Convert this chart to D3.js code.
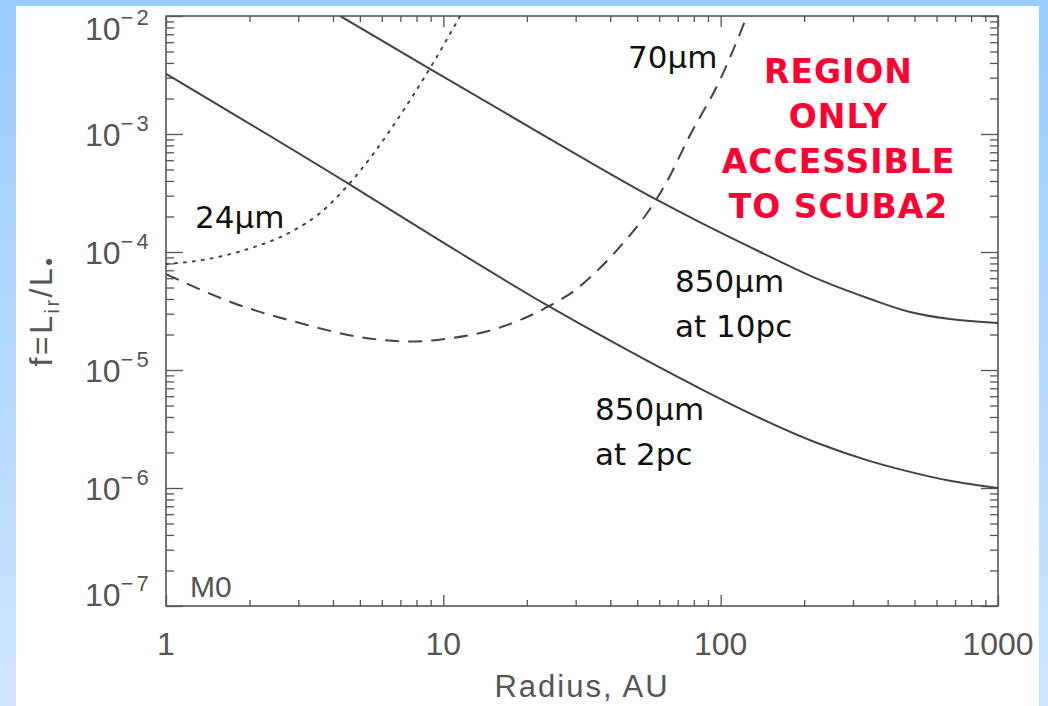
<!DOCTYPE html>
<html>
<head>
<meta charset="utf-8">
<script src="https://cdn.jsdelivr.net/npm/d3@7"></script>
<style>
  body { margin: 0; }
  svg { display: block; }
</style>
</head>
<body>
<div id="chart"></div>
<script>
// radius (AU) and f = Lir/L*
const r2pc  = [1, 4.5, 10, 24, 46, 84, 139, 228, 346, 482, 671, 1000];
const f2pc  = [3.24e-3, 3.85e-4, 1.2e-4, 3.47e-5, 1.48e-5, 7.0e-6, 3.9e-6, 2.36e-6, 1.69e-6, 1.37e-6, 1.15e-6, 1.0e-6];

const r10pc = [4.25, 9.1, 24, 59, 84, 139, 228, 346, 482, 671, 1000];
const f10pc = [1.0e-2, 3.48e-3, 9.2e-4, 2.76e-4, 1.79e-4, 1.0e-4, 5.8e-5, 4.0e-5, 3.1e-5, 2.7e-5, 2.5e-5];

const r24 = [1, 1.41, 2.0, 2.82, 3.55, 4.47, 5.62, 7.08, 8.91, 11.5];
const f24 = [7.9e-5, 8.7e-5, 1.07e-4, 1.48e-4, 2.09e-4, 3.55e-4, 6.9e-4, 1.51e-3, 3.55e-3, 1.0e-2];

const r70 = [1, 1.75, 3.04, 5.31, 7.59, 10.6, 16, 24, 29.9, 36.7, 44.5, 53.4, 63, 77.6, 99.5, 124.5];
const f70 = [6.5e-5, 3.7e-5, 2.5e-5, 1.86e-5, 1.74e-5, 1.86e-5, 2.29e-5, 3.47e-5, 4.76e-5, 7.31e-5, 1.19e-4, 2.02e-4, 3.7e-4, 9.8e-4, 2.88e-3, 1.0e-2];

const xTickVals = [1, 10, 100, 1000];
const xTickLabels = ['1', '10', '100', '1000'];
const yTickVals = [1e-2, 1e-3, 1e-4, 1e-5, 1e-6, 1e-7];
const yTickExps = ['\u22122', '\u22123', '\u22124', '\u22125', '\u22126', '\u22127'];
const regionLines = ['REGION', 'ONLY', 'ACCESSIBLE', 'TO SCUBA2'];

const W = 1048, H = 706;
const pL = 166, pR = 998, pT = 16, pB = 606;

const svg = d3.select('#chart').append('svg')
  .attr('width', W).attr('height', H);

const grad = svg.append('defs').append('linearGradient')
  .attr('id', 'bg').attr('x1', 0).attr('y1', 0).attr('x2', 0).attr('y2', 1);
grad.append('stop').attr('offset', '0%').attr('stop-color', '#99ccff');
grad.append('stop').attr('offset', '100%').attr('stop-color', '#cfe5ff');

svg.append('rect').attr('width', W).attr('height', H).attr('fill', 'url(#bg)');
svg.append('rect').attr('x', 16).attr('y', 6).attr('width', 1023).attr('height', 700).attr('fill', '#fff');

const x = d3.scaleLog().domain([1, 1000]).range([pL, pR]);
const y = d3.scaleLog().domain([1e-7, 1e-2]).range([pB, pT]);

// minor ticks 2..9 per decade
const xMinor = [];
for (let d = 1; d < 1000; d *= 10) for (let k = 2; k <= 9; k++) xMinor.push(d * k);
const yMinor = [];
for (let d = 1e-7; d < 1e-2 * 0.99; d *= 10) for (let k = 2; k <= 9; k++) yMinor.push(d * k);

function ticks(axis, vals, size, transform) {
  const g = svg.append('g').attr('transform', transform)
    .call(axis.tickValues(vals).tickSize(-size).tickFormat(''));
  g.select('.domain').remove();
  g.selectAll('line').attr('stroke', '#555').attr('stroke-width', 1.3);
}
ticks(d3.axisBottom(x), xTickVals, 11, `translate(0,${pB})`);
ticks(d3.axisBottom(x), xMinor, 6, `translate(0,${pB})`);
ticks(d3.axisTop(x), xTickVals, 11, `translate(0,${pT})`);
ticks(d3.axisTop(x), xMinor, 6, `translate(0,${pT})`);
ticks(d3.axisLeft(y), yTickVals, 17, `translate(${pL},0)`);
ticks(d3.axisLeft(y), yMinor, 8, `translate(${pL},0)`);
ticks(d3.axisRight(y), yTickVals, 17, `translate(${pR},0)`);
ticks(d3.axisRight(y), yMinor, 8, `translate(${pR},0)`);

svg.append('rect')
  .attr('x', pL).attr('y', pT).attr('width', pR - pL).attr('height', pB - pT)
  .attr('fill', 'none').attr('stroke', '#555').attr('stroke-width', 1.6);

// tick labels
const axisFont = 'Liberation Sans, Arial, sans-serif';
svg.append('g').selectAll('text').data(xTickVals).join('text')
  .attr('x', d => x(d)).attr('y', 655)
  .attr('text-anchor', 'middle')
  .attr('font-family', axisFont).attr('font-size', 32).attr('fill', '#555')
  .text((d, i) => xTickLabels[i]);

const yl = svg.append('g').selectAll('text').data(yTickVals).join('text')
  .attr('x', 85)
  .attr('y', d => Math.max(pT + 12, Math.min(pB - 12, y(d))) + 12)
  .attr('font-family', axisFont).attr('font-size', 32).attr('fill', '#555');
yl.append('tspan').text('10');
yl.append('tspan').attr('dy', -15).attr('font-size', 22).attr('letter-spacing', 3)
  .text((d, i) => yTickExps[i]);

svg.append('text')
  .attr('x', (pL + pR) / 2).attr('y', 697)
  .attr('text-anchor', 'middle')
  .attr('font-family', axisFont).attr('font-size', 31).attr('letter-spacing', 2)
  .attr('fill', '#555').text('Radius, AU');

const yt = svg.append('text')
  .attr('transform', `translate(52,${(pT + pB) / 2}) rotate(-90)`)
  .attr('text-anchor', 'middle')
  .attr('font-family', axisFont).attr('font-size', 32).attr('letter-spacing', 2.5)
  .attr('fill', '#555');
yt.append('tspan').text('f=L');
yt.append('tspan').attr('dy', 7).attr('font-size', 20).text('ir');
yt.append('tspan').attr('dy', -7).text('/L');
yt.append('tspan').attr('dy', 4).attr('font-size', 22).text('\u2022');

svg.append('text').attr('x', 190).attr('y', 597)
  .attr('font-family', axisFont).attr('font-size', 30).attr('fill', '#555').text('M0');

// curves
svg.append('clipPath').attr('id', 'clip').append('rect')
  .attr('x', pL).attr('y', pT).attr('width', pR - pL).attr('height', pB - pT);

const line = d3.line().x(d => x(d[0])).y(d => y(d[1])).curve(d3.curveMonotoneX);
const plot = svg.append('g').attr('clip-path', 'url(#clip)');

function series(rs, fs, dash) {
  plot.append('path')
    .attr('d', line(rs.map((r, i) => [r, fs[i]])))
    .attr('fill', 'none').attr('stroke', '#444').attr('stroke-width', 2)
    .attr('stroke-dasharray', dash)
    .attr('stroke-linecap', dash === '2,7' ? 'round' : 'butt');
}
series(r2pc, f2pc, null);
series(r10pc, f10pc, null);
series(r24, f24, '2,7');
series(r70, f70, '14,9');

// annotations
const labelFont = 'DejaVu Sans, sans-serif';
const notes = [
  ['24\u03bcm', 195, 228],
  ['70\u03bcm', 628, 68],
  ['850\u03bcm', 675, 292],
  ['at 10pc', 675, 337],
  ['850\u03bcm', 595, 420],
  ['at 2pc', 595, 465]
];
svg.append('g').selectAll('text').data(notes).join('text')
  .attr('x', d => d[1]).attr('y', d => d[2])
  .attr('font-family', labelFont).attr('font-size', 31).attr('fill', '#111')
  .text(d => d[0]);

svg.append('g').selectAll('text').data(regionLines).join('text')
  .attr('x', 838.5).attr('y', (d, i) => 83 + i * 45)
  .attr('text-anchor', 'middle')
  .attr('font-family', labelFont).attr('font-weight', 'bold').attr('font-size', 33)
  .attr('letter-spacing', 1)
  .attr('fill', '#ff0033')
  .text(d => d);
</script>
</body>
</html>
